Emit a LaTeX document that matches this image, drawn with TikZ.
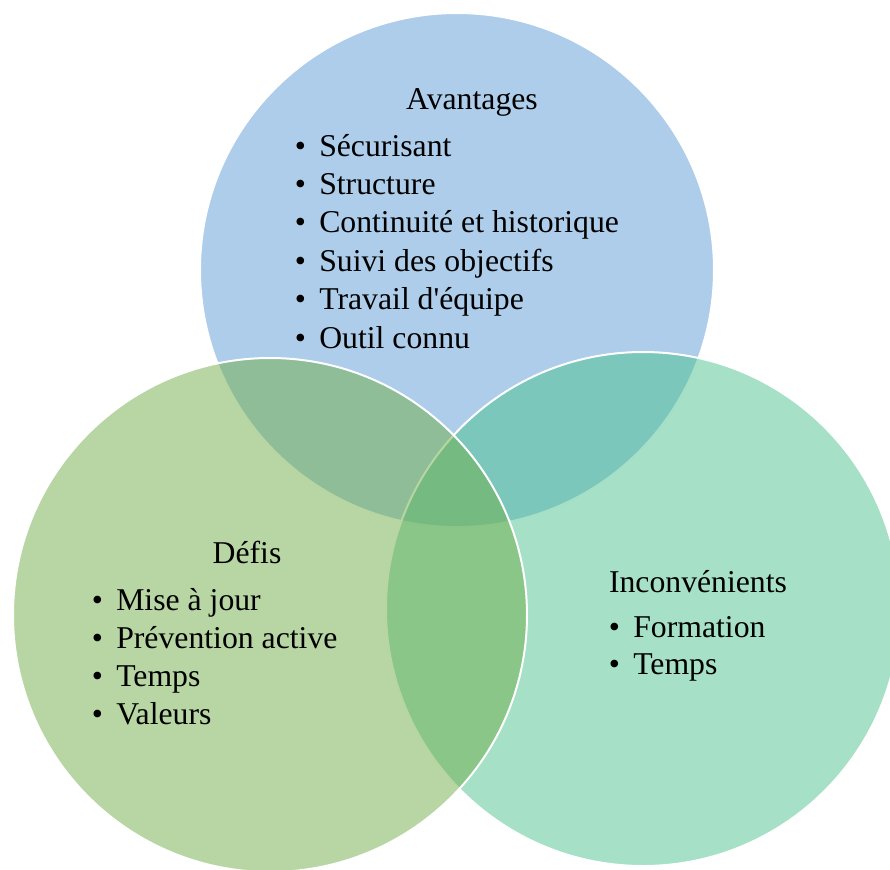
\documentclass[tikz,border=0pt]{standalone}
\usepackage{fontspec}
\setmainfont{Liberation Serif}
\definecolor{avblue}{RGB}{91,155,213}
\definecolor{defgreen}{RGB}{112,173,71}
\definecolor{incteal}{RGB}{75,193,143}
\newcommand{\venntext}{\fontsize{23.8}{28.8}\selectfont}
\newcommand{\puce}[1]{\llap{\textbullet\hspace{10pt}}#1}

\begin{document}
\begin{tikzpicture}[x=0.75pt,y=-0.75pt,
    venn/.style={circle,draw=white,line width=1.5pt,fill opacity=0.5,minimum size=385.5pt,inner sep=0pt},
    titre/.style={anchor=base,inner sep=0pt,font=\venntext},
    liste/.style={anchor=base west,inner sep=0pt,font=\venntext}]
    \clip (0,0) rectangle (890,869);

    % circles
    \node[venn,fill=avblue] (avantages) at (457,270) {};
    \node[venn,fill=incteal] (inconv) at (643,609) {};
    \node[venn,fill=defgreen] (defis) at (270,615) {};

    % texts
    \node[titre] (avtitre) at (472,109) {Avantages};
    \foreach \txt [count=\i from 0] in {Sécurisant,Structure,Continuité et historique,Suivi des objectifs,Travail d\textquotesingle équipe,Outil connu}
        \node[liste] (av\i) at (319,156+38.4*\i) {\puce{\txt}};

    \node[titre] (deftitre) at (247,563) {Défis};
    \foreach \txt [count=\i from 0] in {Mise à jour,Prévention active,Temps,Valeurs}
        \node[liste] (def\i) at (116,610+38*\i) {\puce{\txt}};

    \node[titre] (inctitre) at (698,592) {Inconvénients};
    \foreach \txt [count=\i from 0] in {Formation,Temps}
        \node[liste] (inc\i) at (633,637+37.7*\i) {\puce{\txt}};

\end{tikzpicture}
\end{document}
